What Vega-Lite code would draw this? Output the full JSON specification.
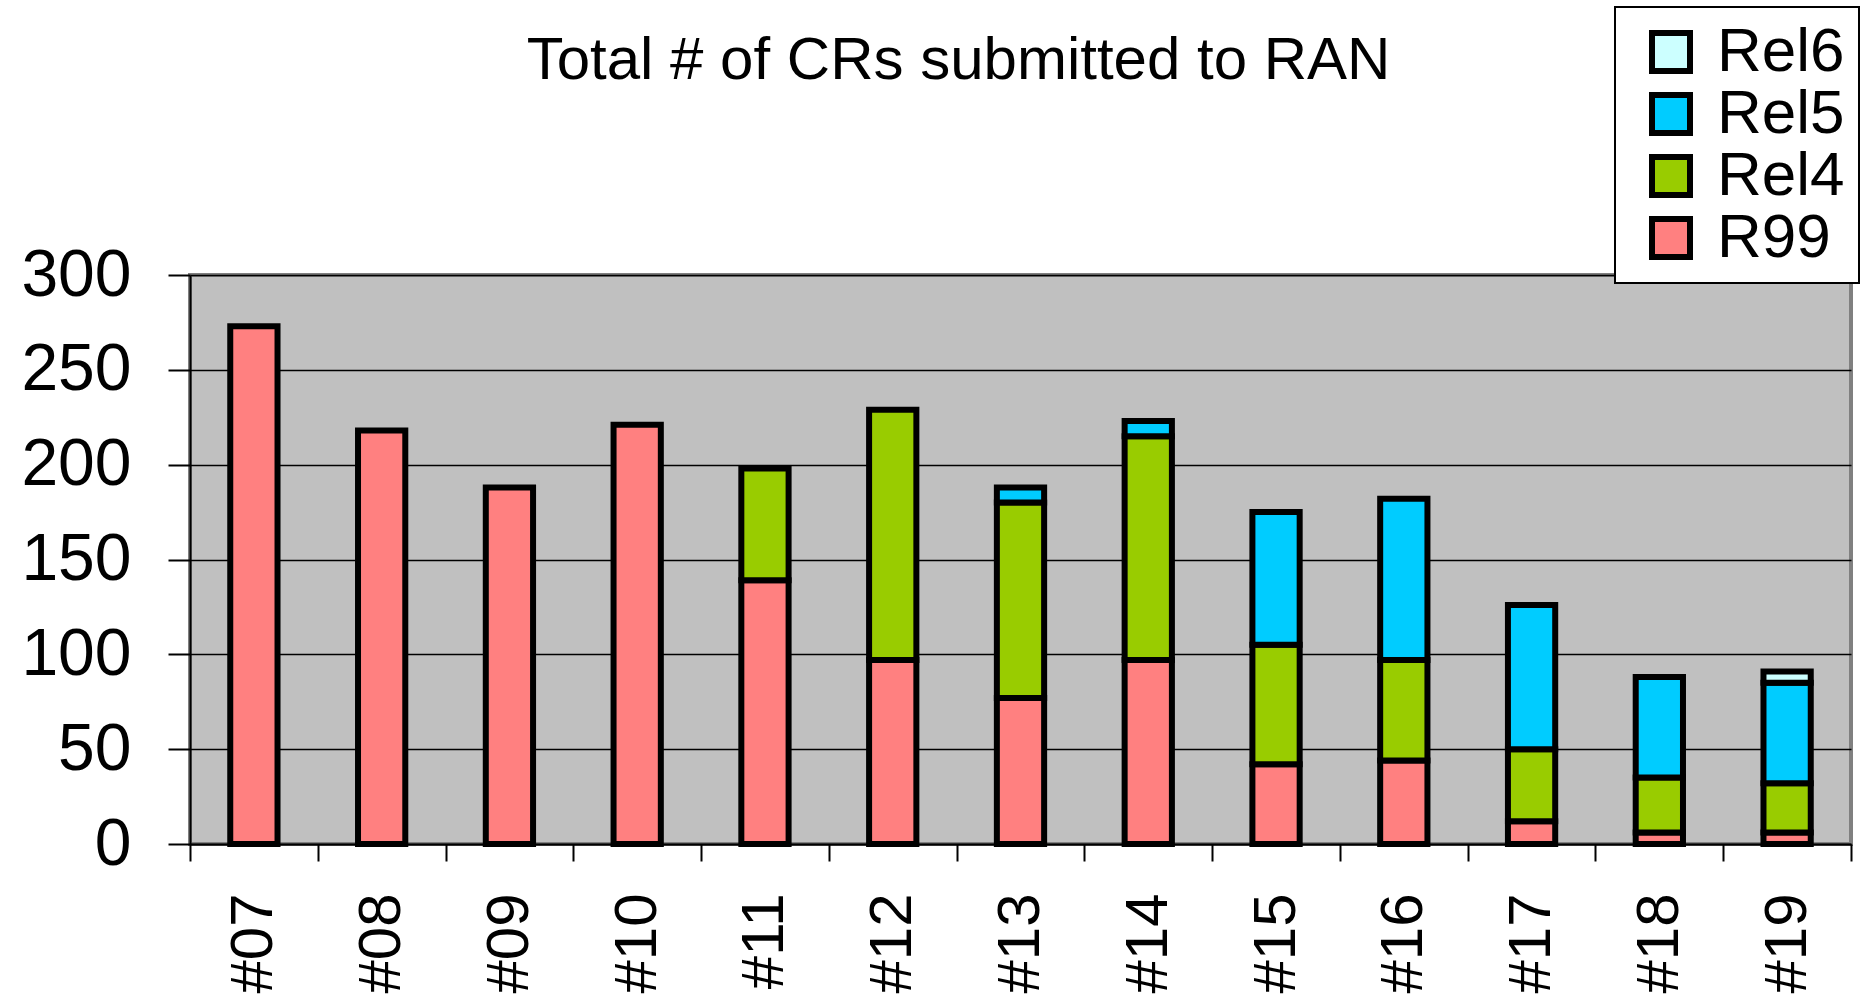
{
  "$schema": "https://vega.github.io/schema/vega-lite/v6.json",
  "width": 1661,
  "height": 569,
  "autosize": {"type": "none"},
  "padding": {"left": 190, "top": 275, "right": 19, "bottom": 153},
  "background": "white",
  "title": {
    "text": "Total # of CRs submitted to RAN",
    "font": "Liberation Sans",
    "fontSize": 60,
    "fontWeight": "normal",
    "color": "black",
    "anchor": "middle",
    "baseline": "alphabetic",
    "dx": -62,
    "offset": -133
  },
  "data": {
    "values": [
      {"meeting": "#07", "release": "R99", "crs": 273},
      {"meeting": "#08", "release": "R99", "crs": 218},
      {"meeting": "#09", "release": "R99", "crs": 188},
      {"meeting": "#10", "release": "R99", "crs": 221},
      {"meeting": "#11", "release": "R99", "crs": 139},
      {"meeting": "#11", "release": "Rel4", "crs": 59},
      {"meeting": "#12", "release": "R99", "crs": 97},
      {"meeting": "#12", "release": "Rel4", "crs": 132},
      {"meeting": "#13", "release": "R99", "crs": 77},
      {"meeting": "#13", "release": "Rel4", "crs": 103},
      {"meeting": "#13", "release": "Rel5", "crs": 8},
      {"meeting": "#14", "release": "R99", "crs": 97},
      {"meeting": "#14", "release": "Rel4", "crs": 118},
      {"meeting": "#14", "release": "Rel5", "crs": 8},
      {"meeting": "#15", "release": "R99", "crs": 42},
      {"meeting": "#15", "release": "Rel4", "crs": 63},
      {"meeting": "#15", "release": "Rel5", "crs": 70},
      {"meeting": "#16", "release": "R99", "crs": 44},
      {"meeting": "#16", "release": "Rel4", "crs": 53},
      {"meeting": "#16", "release": "Rel5", "crs": 85},
      {"meeting": "#17", "release": "R99", "crs": 12},
      {"meeting": "#17", "release": "Rel4", "crs": 38},
      {"meeting": "#17", "release": "Rel5", "crs": 76},
      {"meeting": "#18", "release": "R99", "crs": 6},
      {"meeting": "#18", "release": "Rel4", "crs": 29},
      {"meeting": "#18", "release": "Rel5", "crs": 53},
      {"meeting": "#19", "release": "R99", "crs": 6},
      {"meeting": "#19", "release": "Rel4", "crs": 26},
      {"meeting": "#19", "release": "Rel5", "crs": 53},
      {"meeting": "#19", "release": "Rel6", "crs": 6}
    ]
  },
  "mark": {"type": "bar", "stroke": "black", "strokeWidth": 6, "width": {"band": 0.37}},
  "encoding": {
    "x": {
      "field": "meeting",
      "type": "nominal",
      "sort": null,
      "scale": {"paddingInner": 0, "paddingOuter": 0},
      "axis": {
        "title": null,
        "labelAngle": -90,
        "labelFont": "Liberation Sans",
        "labelFontSize": 60,
        "labelColor": "black",
        "labelPadding": 32,
        "tickSize": 17,
        "tickBand": "extent",
        "tickColor": "black",
        "tickWidth": 2,
        "domainColor": "black",
        "domainWidth": 2,
        "grid": false
      }
    },
    "y": {
      "field": "crs",
      "type": "quantitative",
      "stack": "zero",
      "scale": {"domain": [0, 300], "nice": false},
      "axis": {
        "title": null,
        "values": [0, 50, 100, 150, 200, 250, 300],
        "labelFont": "Liberation Sans",
        "labelFontSize": 66,
        "labelColor": "black",
        "labelPadding": 37,
        "tickSize": 22,
        "tickColor": "black",
        "tickWidth": 2,
        "domainColor": "black",
        "domainWidth": 2,
        "grid": true,
        "gridColor": "black",
        "gridWidth": 1.5,
        "gridOpacity": 1
      }
    },
    "color": {
      "field": "release",
      "type": "nominal",
      "scale": {
        "domain": ["Rel6", "Rel5", "Rel4", "R99"],
        "range": ["#CCFFFF", "#00CCFF", "#99CC00", "#FF8080"]
      },
      "legend": {
        "title": null,
        "orient": "none",
        "legendX": 1425,
        "legendY": -268,
        "direction": "vertical",
        "fillColor": "white",
        "strokeColor": "black",
        "padding": 14,
        "symbolType": "square",
        "symbolSize": 1444,
        "symbolStrokeColor": "black",
        "symbolStrokeWidth": 6,
        "symbolOpacity": 1,
        "symbolOffset": 11,
        "labelFont": "Liberation Sans",
        "labelFontSize": 62,
        "labelColor": "black",
        "labelOffset": 15,
        "rowPadding": -2
      }
    },
    "order": {"field": "release", "sort": "ascending"}
  },
  "config": {
    "view": {"fill": "#C0C0C0", "stroke": "#808080", "strokeWidth": 4},
    "legend": {"strokeWidth": 2}
  }
}
